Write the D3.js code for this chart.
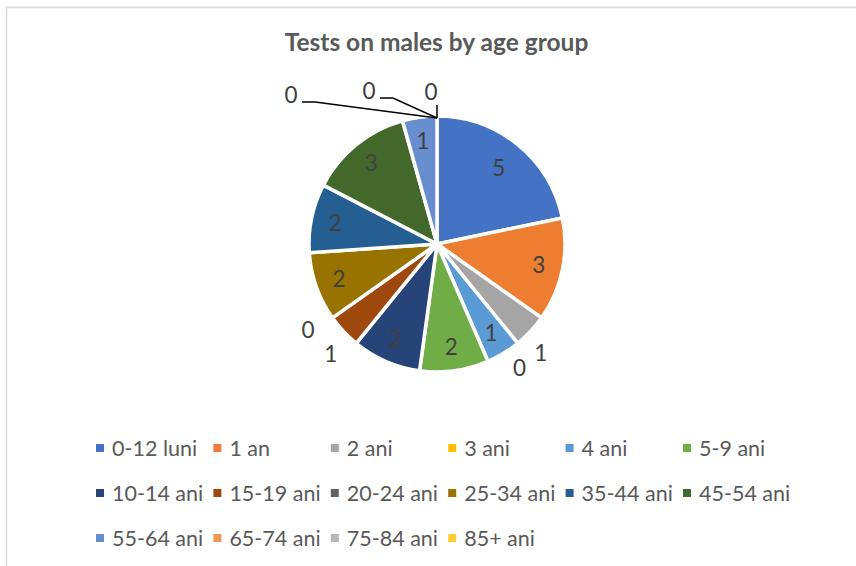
<!DOCTYPE html>
<html><head><meta charset="utf-8">
<script src="https://cdn.jsdelivr.net/npm/d3@7"></script>
<style>html,body{margin:0;padding:0;background:#fff;overflow:hidden}</style>
</head><body>
<svg id="c" width="856" height="566"></svg>
<script>
const title = "Tests on males by age group";
const categories = ["0-12 luni","1 an","2 ani","3 ani","4 ani","5-9 ani","10-14 ani","15-19 ani","20-24 ani","25-34 ani","35-44 ani","45-54 ani","55-64 ani","65-74 ani","75-84 ani","85+ ani"];
const values = [5,3,1,0,1,2,2,1,0,2,2,3,1,0,0,0];
const colors = ["#4472C4","#ED7D31","#A5A5A5","#FFC000","#5B9BD5","#70AD47","#264478","#9E480E","#636363","#997300","#255E91","#43682B","#698ED0","#F1975A","#B7B7B7","#FFCD33"];

// label placement config (layout, not data)
const outsideLabels = {"2 ani":{a:3.5,r:151},"3 ani":{a:5.5,r:149},"15-19 ani":{a:-3,r:153},"20-24 ani":{a:1.5,r:155}};
const leaderLabels = {"65-74 ani":{tx:-146,ty:-23,bx:-134,by:-16},"75-84 ani":{tx:-68,ty:-27,bx:-56,by:-20},"85+ ani":{tx:-6,ty:-26,bx:0,by:-13}};

const svg = d3.select("#c");
svg.append("rect").attr("x",6.5).attr("y",7.5).attr("width",900).attr("height",600)
  .attr("fill","none").attr("stroke","#d9d9d9").attr("stroke-width",1.5);

svg.append("text").attr("x",436.5).attr("y",51).attr("text-anchor","middle")
  .attr("font-family","Lato").attr("font-weight","bold").attr("font-size",24.5)
  .attr("fill","#595959").text(title);

const cx = 437, cy = 244, R = 128;
const data = categories.map((c,i)=>({cat:c,value:values[i],color:colors[i]}));
const pie = d3.pie().value(d=>d.value).sort(null);
const arcs = pie(data);
const arc = d3.arc().innerRadius(0).outerRadius(R);
const g = svg.append("g").attr("transform",`translate(${cx},${cy})`);
g.selectAll("path").data(arcs.filter(a=>a.data.value>0)).enter().append("path")
  .attr("d",arc).attr("fill",d=>d.data.color).attr("stroke","#fff").attr("stroke-width",3.5)
  .attr("stroke-linejoin","round");

const lblFont = {family:"Lato", size:22.5};
function polar(angle, r){ return [r*Math.sin(angle), -r*Math.cos(angle)]; }
arcs.forEach(a=>{
  const mid = (a.startAngle+a.endAngle)/2;
  let x,y;
  const cat = a.data.cat;
  if (leaderLabels[cat]) {
    const L = leaderLabels[cat];
    const [ax,ay] = polar(a.endAngle, R-2);
    x = ax+L.tx; y = ay+L.ty;
    const pts = cat==="85+ ani" ? [[ax,ay+L.by],[ax,ay]] : [[ax+L.tx+11,ay+L.by],[ax+L.bx+12,ay+L.by],[ax,ay]];
    g.append("path").attr("d",d3.line()(pts)).attr("fill","none").attr("stroke","#000").attr("stroke-width",1.5);
  } else if (outsideLabels[cat]) {
    const O = outsideLabels[cat];
    [x,y] = polar(mid + O.a*Math.PI/180, O.r);
  } else {
    [x,y] = polar(mid, a.data.value >= 5 ? 98 : 104);
  }
  g.append("text").attr("x",x).attr("y",y).attr("dy","0.35em").attr("text-anchor","middle")
    .attr("font-family",lblFont.family).attr("font-size",lblFont.size).attr("fill","#404040")
    .text(a.data.value);
});

// legend
const colW = 117.4, x0 = 96, rowY = [448, 493, 538];
const lg = svg.append("g");
data.forEach((d,i)=>{
  const col = i%6, row = Math.floor(i/6);
  const x = x0 + col*colW, y = rowY[row];
  lg.append("rect").attr("x",x).attr("y",y-4).attr("width",8).attr("height",8).attr("fill",d.color);
  lg.append("text").attr("x",x+16).attr("y",y).attr("dy","0.35em")
    .attr("font-family","Lato").attr("font-size",21.5).attr("fill","#595959").text(d.cat);
});
</script>
</body></html>
